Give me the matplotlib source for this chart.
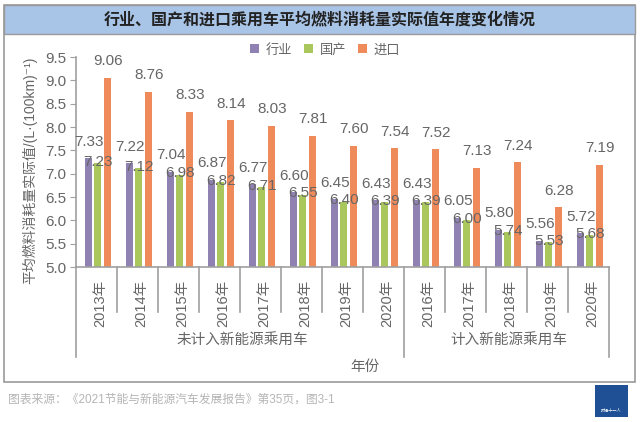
import matplotlib
matplotlib.use("Agg")
import matplotlib.pyplot as plt
import matplotlib.transforms as mtransforms
from matplotlib.patches import Rectangle
import numpy as np

plt.rcParams['font.family'] = ['Liberation Sans', 'Noto Sans CJK SC', 'DejaVu Sans']

years = ['2013年', '2014年', '2015年', '2016年', '2017年', '2018年', '2019年', '2020年',
         '2016年', '2017年', '2018年', '2019年', '2020年']
industry = [7.33, 7.22, 7.04, 6.87, 6.77, 6.60, 6.45, 6.43, 6.43, 6.05, 5.80, 5.56, 5.72]
domestic = [7.23, 7.12, 6.98, 6.82, 6.71, 6.55, 6.40, 6.39, 6.39, 6.00, 5.74, 5.53, 5.68]
imported = [9.06, 8.76, 8.33, 8.14, 8.03, 7.81, 7.60, 7.54, 7.52, 7.13, 7.24, 6.28, 7.19]
series_names = ['行业', '国产', '进口']
groups = ['未计入新能源乘用车', '计入新能源乘用车']
group_sizes = [8, 5]

c_ind = '#8f82b3'
c_dom = '#a9c75c'
c_imp = '#ef8a5b'
txt = '#666666'
line_c = '#a0a0a0'

fig = plt.figure(figsize=(6.4, 4.22), dpi=100)
fig.patch.set_facecolor('white')

# outer frame + title band
fig.patches.append(Rectangle((4/640, 1-382/422), 631/640, 377/422, transform=fig.transFigure,
                             fill=False, edgecolor='#9a9a9a', linewidth=1.2))
fig.patches.append(Rectangle((4/640, 1-34/422), 631/640, 29/422, transform=fig.transFigure,
                             facecolor='#a8c4e6', edgecolor='#9a9a9a', linewidth=1.0))
fig.text(320/640, 1-19.5/422, '行业、国产和进口乘用车平均燃料消耗量实际值年度变化情况',
         ha='center', va='center', fontsize=11.5, fontweight='bold', color='#222222')

ax = fig.add_axes([76/640, 1-267/422, 533/640, 210/422])
x = np.arange(len(years))
w = 0.17
ax.bar(x + 0.295, industry, w, color=c_ind, label=series_names[0])
ax.bar(x + 0.53, domestic, w, color=c_dom, label=series_names[1])
ax.bar(x + 0.765, imported, w, color=c_imp, label=series_names[2])

for i in range(len(years)):
    ax.annotate(f'{industry[i]:.2f}', (x[i] + 0.32, industry[i]), xytext=(0, 7),
                textcoords='offset points', ha='center', va='bottom', fontsize=11, color=txt)
    ax.annotate(f'{domestic[i]:.2f}', (x[i] + 0.53, domestic[i]), xytext=(0, 1),
                textcoords='offset points', ha='center', va='center', fontsize=11, color=txt)
    ax.annotate(f'{imported[i]:.2f}', (x[i] + 0.78, imported[i]), xytext=(0, 7),
                textcoords='offset points', ha='center', va='bottom', fontsize=11, color=txt)

ax.set_xlim(0, len(years))
ax.set_ylim(5, 9.5)
ax.set_yticks(np.arange(5, 9.51, 0.5))
ax.set_yticklabels([f'{v:.1f}' for v in np.arange(5, 9.51, 0.5)], fontsize=11, color=txt)
ax.tick_params(axis='y', length=4, color=line_c, pad=3)
ax.set_xticks(x + 0.58)
ax.set_xticklabels(years, rotation=90, fontsize=10.5, color=txt, va='top')
ax.tick_params(axis='x', length=0, pad=9)
for s in ['top', 'right']:
    ax.spines[s].set_visible(False)
for s in ['left', 'bottom']:
    ax.spines[s].set_color(line_c)
    ax.spines[s].set_linewidth(1.2)

ax.set_ylabel('平均燃料消耗量实际值/(L·(100km)⁻¹)', fontsize=10, color=txt)
ax.yaxis.set_label_coords(-0.072, 0.46)

# group separators below axis
tr = mtransforms.blended_transform_factory(ax.transData, fig.transFigure)
bounds = [0, 8, 13]
for i in range(len(years) + 1):
    long = i in bounds
    y_end = 1 - (357 if long else 312) / 422
    ax.plot([i, i], [1 - 267/422, y_end], transform=tr, color=line_c, lw=1.2, clip_on=False)
start = 0
for g, n in zip(groups, group_sizes):
    fig.text(start + n / 2 + 0.05, 1 - 341/422, g, transform=tr, fontsize=10.5, color=txt,
             ha='center', va='center')
    start += n
fig.text(365/640, 1 - 367/422, '年份', ha='center', va='center', fontsize=10.5, color=txt)

leg = fig.legend(loc='center', bbox_to_anchor=(325/640, 1 - 50/422), ncol=3, frameon=False,
                 fontsize=9.5, handlelength=0.7, handleheight=0.7, handletextpad=0.5,
                 columnspacing=0.9)
for t in leg.get_texts():
    t.set_color(txt)

fig.text(8/640, 1 - 400/422, '图表来源：《2021节能与新能源汽车发展报告》第35页，图3-1',
         ha='left', va='center', fontsize=8.5, color='#b5b5b5')

# small logo block
fig.patches.append(Rectangle((595/640, 1-417/422), 33/640, 32/422, transform=fig.transFigure,
                             facecolor='#1f4f95', edgecolor='none'))
fig.text(611.5/640, 1-411/422, '财经十一人', ha='center', va='center', fontsize=3, color='white')

fig.savefig('out.png', dpi=100)
